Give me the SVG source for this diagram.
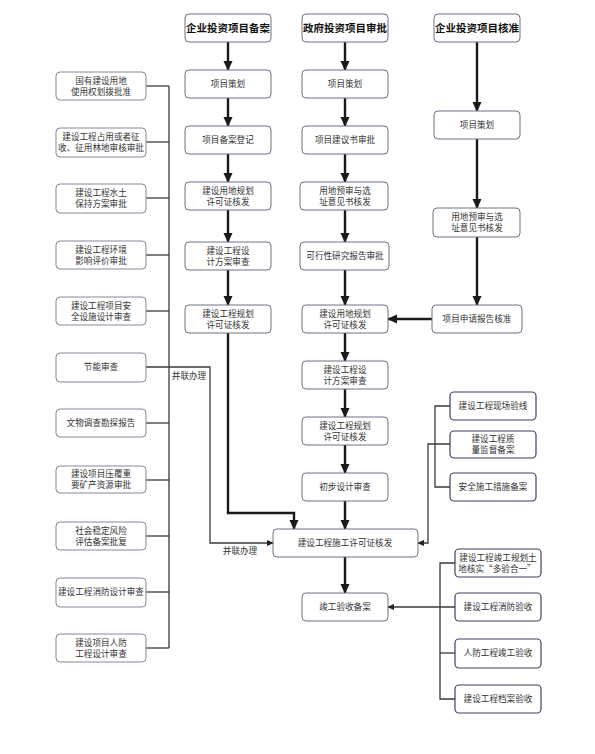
<svg xmlns="http://www.w3.org/2000/svg" width="595" height="754" viewBox="0 0 595 754">
<style>
.bx{fill:#fff;stroke:#6e7184;stroke-width:1;}
.bl{fill:#fff;stroke:#85889a;stroke-width:1;}
.br{fill:#fff;stroke:#3d4163;stroke-width:1.2;}
.t{font-family:"Noto Sans CJK SC","Noto Sans",sans-serif;font-size:8.6px;fill:#333;text-anchor:middle;}
.h{font-family:"Noto Sans CJK SC","Noto Sans",sans-serif;font-size:10.5px;font-weight:bold;fill:#111;text-anchor:middle;}
.k{fill:none;stroke:#1a1a1a;stroke-width:2.4;}
.n{fill:none;stroke:#3a3a3a;stroke-width:1.3;}
</style>
<defs>
<marker id="ak" markerUnits="userSpaceOnUse" markerWidth="10" markerHeight="10" refX="9" refY="5" orient="auto"><path d="M0,0.5 L10,5 L0,9.5 Z" fill="#1a1a1a"/></marker>
<marker id="an" markerUnits="userSpaceOnUse" markerWidth="7" markerHeight="7" refX="6" refY="3.5" orient="auto"><path d="M0,0.5 L7,3.5 L0,6.5 Z" fill="#222"/></marker>
</defs>
<rect width="595" height="754" fill="#fff"/>

<g id="connectors">
<!-- column 1 -->
<line class="k" x1="228" y1="42" x2="228" y2="70" marker-end="url(#ak)"/>
<line class="k" x1="228" y1="98" x2="228" y2="126" marker-end="url(#ak)"/>
<line class="k" x1="228" y1="154" x2="228" y2="182" marker-end="url(#ak)"/>
<line class="k" x1="228" y1="210" x2="228" y2="242" marker-end="url(#ak)"/>
<line class="k" x1="228" y1="270" x2="228" y2="305" marker-end="url(#ak)"/>
<polyline class="k" points="228,333 228,513 294,513 294,529" marker-end="url(#ak)"/>
<!-- column 2 -->
<line class="k" x1="345" y1="42" x2="345" y2="70" marker-end="url(#ak)"/>
<line class="k" x1="345" y1="98" x2="345" y2="126" marker-end="url(#ak)"/>
<line class="k" x1="345" y1="154" x2="345" y2="182" marker-end="url(#ak)"/>
<line class="k" x1="345" y1="210" x2="345" y2="242" marker-end="url(#ak)"/>
<line class="k" x1="345" y1="270" x2="345" y2="305" marker-end="url(#ak)"/>
<line class="k" x1="345" y1="333" x2="345" y2="361" marker-end="url(#ak)"/>
<line class="k" x1="345" y1="389" x2="345" y2="417" marker-end="url(#ak)"/>
<line class="k" x1="345" y1="445" x2="345" y2="473" marker-end="url(#ak)"/>
<line class="k" x1="345" y1="501" x2="345" y2="529" marker-end="url(#ak)"/>
<line class="k" x1="345" y1="557" x2="345" y2="593" marker-end="url(#ak)"/>
<!-- column 3 -->
<line class="k" x1="477" y1="42" x2="477" y2="111" marker-end="url(#ak)"/>
<line class="k" x1="477" y1="139" x2="477" y2="208" marker-end="url(#ak)"/>
<line class="k" x1="477" y1="237" x2="477" y2="305" marker-end="url(#ak)"/>
<line class="k" x1="432" y1="319" x2="388" y2="319" marker-end="url(#ak)"/>
<!-- left bus -->
<line class="n" x1="169" y1="86" x2="169" y2="648"/>
<line class="n" x1="146" y1="86" x2="169" y2="86"/>
<line class="n" x1="146" y1="142" x2="169" y2="142"/>
<line class="n" x1="146" y1="198" x2="169" y2="198"/>
<line class="n" x1="146" y1="255" x2="169" y2="255"/>
<line class="n" x1="146" y1="311" x2="169" y2="311"/>
<line class="n" x1="146" y1="423" x2="169" y2="423"/>
<line class="n" x1="146" y1="480" x2="169" y2="480"/>
<line class="n" x1="146" y1="536" x2="169" y2="536"/>
<line class="n" x1="146" y1="592" x2="169" y2="592"/>
<line class="n" x1="146" y1="648" x2="169" y2="648"/>
<polyline class="n" points="146,367 210,367 210,543 273,543" marker-end="url(#an)"/>
<!-- right group 1 -->
<polyline class="n" points="450,406 435,406 435,487 450,487"/>
<polyline class="n" points="450,444 428,444 428,543 418,543" marker-end="url(#an)"/>
<!-- right group 2 -->
<polyline class="n" points="455,563 440,563 440,699 455,699"/>
<line class="n" x1="440" y1="653" x2="455" y2="653"/>
<line class="n" x1="455" y1="607" x2="388" y2="607" marker-end="url(#an)"/>
</g>

<text class="t" x="189" y="379">并联办理</text>
<text class="t" x="240" y="554">并联办理</text>

<g id="h1"><rect class="bx" x="185" y="14" width="86" height="28" rx="4"/><text class="h" x="228" y="32">企业投资项目备案</text></g>
<g id="h2"><rect class="bx" x="302" y="14" width="86" height="28" rx="4"/><text class="h" x="345" y="32">政府投资项目审批</text></g>
<g id="h3"><rect class="bx" x="434" y="14" width="86" height="28" rx="4"/><text class="h" x="477" y="32">企业投资项目核准</text></g>

<g id="c1a"><rect class="bx" x="185" y="70" width="86" height="28" rx="4"/><text class="t" x="228" y="87">项目策划</text></g>
<g id="c1b"><rect class="bx" x="185" y="126" width="86" height="28" rx="4"/><text class="t" x="228" y="143">项目备案登记</text></g>
<g id="c1c"><rect class="bx" x="185" y="182" width="86" height="28" rx="4"/><text class="t" x="228" y="194">建设用地规划</text><text class="t" x="228" y="205">许可证核发</text></g>
<g id="c1d"><rect class="bx" x="185" y="242" width="86" height="28" rx="4"/><text class="t" x="228" y="254">建设工程设</text><text class="t" x="228" y="265">计方案审查</text></g>
<g id="c1e"><rect class="bx" x="185" y="305" width="86" height="28" rx="4"/><text class="t" x="228" y="317">建设工程规划</text><text class="t" x="228" y="328">许可证核发</text></g>

<g id="c2a"><rect class="bx" x="302" y="70" width="86" height="28" rx="4"/><text class="t" x="345" y="87">项目策划</text></g>
<g id="c2b"><rect class="bx" x="302" y="126" width="86" height="28" rx="4"/><text class="t" x="345" y="143">项目建议书审批</text></g>
<g id="c2c"><rect class="bx" x="300" y="182" width="88" height="28" rx="4"/><text class="t" x="345" y="194">用地预审与选</text><text class="t" x="345" y="205">址意见书核发</text></g>
<g id="c2d"><rect class="bx" x="300" y="242" width="89" height="28" rx="4"/><text class="t" x="345" y="259">可行性研究报告审批</text></g>
<g id="c2e"><rect class="bx" x="302" y="305" width="86" height="28" rx="4"/><text class="t" x="345" y="317">建设用地规划</text><text class="t" x="345" y="328">许可证核发</text></g>
<g id="c2f"><rect class="bx" x="302" y="361" width="86" height="28" rx="4"/><text class="t" x="345" y="373">建设工程设</text><text class="t" x="345" y="384">计方案审查</text></g>
<g id="c2g"><rect class="bx" x="302" y="417" width="86" height="28" rx="4"/><text class="t" x="345" y="429">建设工程规划</text><text class="t" x="345" y="440">许可证核发</text></g>
<g id="c2h"><rect class="bx" x="302" y="473" width="86" height="28" rx="4"/><text class="t" x="345" y="490">初步设计审查</text></g>
<g id="c2i"><rect class="bx" x="273" y="529" width="145" height="28" rx="4"/><text class="t" x="345" y="546">建设工程施工许可证核发</text></g>
<g id="c2j"><rect class="bx" x="302" y="593" width="86" height="28" rx="4"/><text class="t" x="345" y="610">竣工验收备案</text></g>

<g id="c3a"><rect class="bx" x="434" y="111" width="86" height="28" rx="4"/><text class="t" x="477" y="128">项目策划</text></g>
<g id="c3b"><rect class="bx" x="433" y="208" width="87" height="29" rx="4"/><text class="t" x="477" y="220">用地预审与选</text><text class="t" x="477" y="231">址意见书核发</text></g>
<g id="c3c"><rect class="bx" x="432" y="305" width="90" height="28" rx="4"/><text class="t" x="477" y="322">项目申请报告核准</text></g>

<g id="l1"><rect class="bl" x="56" y="72" width="90" height="28" rx="4"/><text class="t" x="101" y="84">国有建设用地</text><text class="t" x="101" y="95">使用权划拨批准</text></g>
<g id="l2"><rect class="bl" x="56" y="128" width="90" height="29" rx="4"/><text class="t" x="101" y="140">建设工程占用或者征</text><text class="t" x="101" y="151">收、征用林地审核审批</text></g>
<g id="l3"><rect class="bl" x="56" y="184" width="90" height="29" rx="4"/><text class="t" x="101" y="196">建设工程水土</text><text class="t" x="101" y="207">保持方案审批</text></g>
<g id="l4"><rect class="bl" x="56" y="241" width="90" height="28" rx="4"/><text class="t" x="101" y="253">建设工程环境</text><text class="t" x="101" y="264">影响评价审批</text></g>
<g id="l5"><rect class="bl" x="56" y="297" width="90" height="28" rx="4"/><text class="t" x="101" y="309">建设工程项目安</text><text class="t" x="101" y="320">全设施设计审查</text></g>
<g id="l6"><rect class="bl" x="56" y="353" width="90" height="29" rx="4"/><text class="t" x="101" y="370">节能审查</text></g>
<g id="l7"><rect class="bl" x="56" y="409" width="90" height="28" rx="4"/><text class="t" x="101" y="426">文物调查勘探报告</text></g>
<g id="l8"><rect class="bl" x="56" y="466" width="90" height="27" rx="4"/><text class="t" x="101" y="477">建设项目压覆重</text><text class="t" x="101" y="488">要矿产资源审批</text></g>
<g id="l9"><rect class="bl" x="56" y="522" width="90" height="28" rx="4"/><text class="t" x="101" y="534">社会稳定风险</text><text class="t" x="101" y="545">评估备案批复</text></g>
<g id="l10"><rect class="bl" x="56" y="578" width="90" height="29" rx="4"/><text class="t" x="101" y="595">建设工程消防设计审查</text></g>
<g id="l11"><rect class="bl" x="56" y="634" width="90" height="28" rx="4"/><text class="t" x="101" y="646">建设项目人防</text><text class="t" x="101" y="657">工程设计审查</text></g>

<g id="r1"><rect class="br" x="450" y="392" width="86" height="28" rx="4"/><text class="t" x="493" y="409">建设工程现场验线</text></g>
<g id="r2"><rect class="br" x="450" y="431" width="86" height="27" rx="4"/><text class="t" x="493" y="442">建设工程质</text><text class="t" x="493" y="453">量监督备案</text></g>
<g id="r3"><rect class="br" x="450" y="473" width="86" height="28" rx="4"/><text class="t" x="493" y="490">安全施工措施备案</text></g>

<g id="r4"><rect class="br" x="455" y="549" width="86" height="28" rx="4"/><text class="t" x="498" y="561">建设工程竣工规划土</text><text class="t" x="497" y="572">地核实“多验合一”</text></g>
<g id="r5"><rect class="br" x="455" y="593" width="86" height="28" rx="4"/><text class="t" x="498" y="610">建设工程消防验收</text></g>
<g id="r6"><rect class="br" x="455" y="639" width="86" height="29" rx="4"/><text class="t" x="498" y="656">人防工程竣工验收</text></g>
<g id="r7"><rect class="br" x="455" y="685" width="86" height="28" rx="4"/><text class="t" x="498" y="702">建设工程档案验收</text></g>
</svg>
